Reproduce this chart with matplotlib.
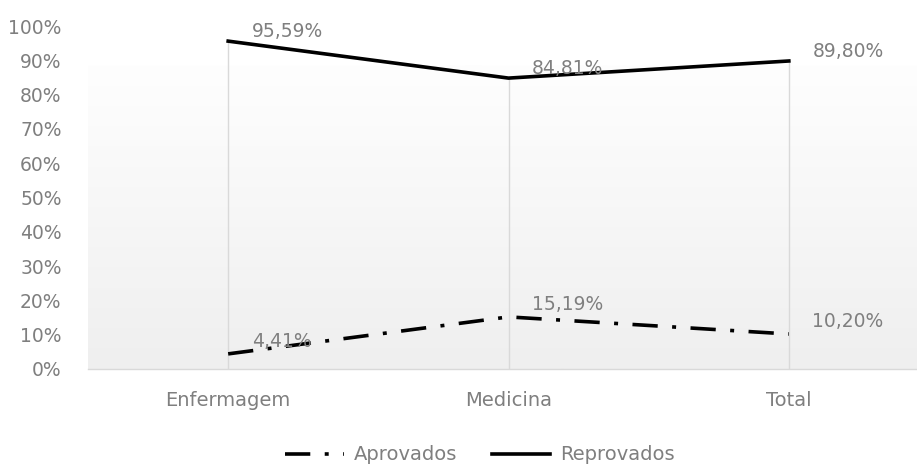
import matplotlib
matplotlib.use("Agg")
import matplotlib.pyplot as plt
import numpy as np
from matplotlib.colors import LinearSegmentedColormap

categories = ["Enfermagem", "Medicina", "Total"]
aprovados = [4.41, 15.19, 10.20]
reprovados = [95.59, 84.81, 89.80]
yticks = [0, 10, 20, 30, 40, 50, 60, 70, 80, 90, 100]

plt.rcParams['font.family'] = ['DejaVu Sans']
gray = '#7f7f7f'

fig = plt.figure(figsize=(9.17, 4.66), dpi=100)
ax = fig.add_axes([88/917, 97/466, 841/917, 343/466])
x = np.arange(len(categories))
ax.set_xlim(-0.5, 2.5)
ax.set_ylim(0, 100)

# gradient plot background
cmap = LinearSegmentedColormap.from_list('g', ['#efefef', '#fefefe'])
grad = np.linspace(0, 1, 256).reshape(-1, 1)
ax.imshow(grad, extent=(-0.5, 2.5, 0, 88.5), origin='lower', aspect='auto',
          cmap=cmap, zorder=0)

# drop lines
for xi, a, r in zip(x, aprovados, reprovados):
    ax.plot([xi, xi], [0, max(a, r)], color='#d9d9d9', lw=1, zorder=1)

ax.plot(x, aprovados, color='black', lw=2.6, linestyle=(0, (7, 4, 1.1, 4)),
        label='Aprovados', zorder=3)
ax.plot(x, reprovados, color='black', lw=2.6, label='Reprovados', zorder=3)

for xi, v in zip(x, reprovados):
    ax.annotate(f"{v:.2f}%".replace('.', ','), (xi, v), xytext=(17, 7),
                textcoords='offset points', ha='left', va='center',
                fontsize=13.5, color=gray, zorder=4)
for xi, v in zip(x, aprovados):
    ax.annotate(f"{v:.2f}%".replace('.', ','), (xi, v), xytext=(17, 9),
                textcoords='offset points', ha='left', va='center',
                fontsize=13.5, color=gray, zorder=4)

ax.set_xticks(x)
ax.set_xticklabels(categories, fontsize=14, color=gray)
ax.set_yticks(yticks)
ax.set_yticklabels([f"{t}%" for t in yticks], fontsize=13.5, color=gray)
ax.tick_params(axis='y', length=0, pad=19)
ax.tick_params(axis='x', length=0, pad=16)
for s in ['left', 'right', 'top']:
    ax.spines[s].set_visible(False)
ax.spines['bottom'].set_color('#d9d9d9')
ax.spines['bottom'].set_linewidth(1)
ax.set_facecolor('white')

leg = fig.legend(loc='center', bbox_to_anchor=(480/917, 1 - 455/466), ncol=2,
                 frameon=False, fontsize=14, handlelength=3.0, columnspacing=1.8,
                 handletextpad=0.5)
for t in leg.get_texts():
    t.set_color(gray)

fig.savefig('out.png', dpi=100)
